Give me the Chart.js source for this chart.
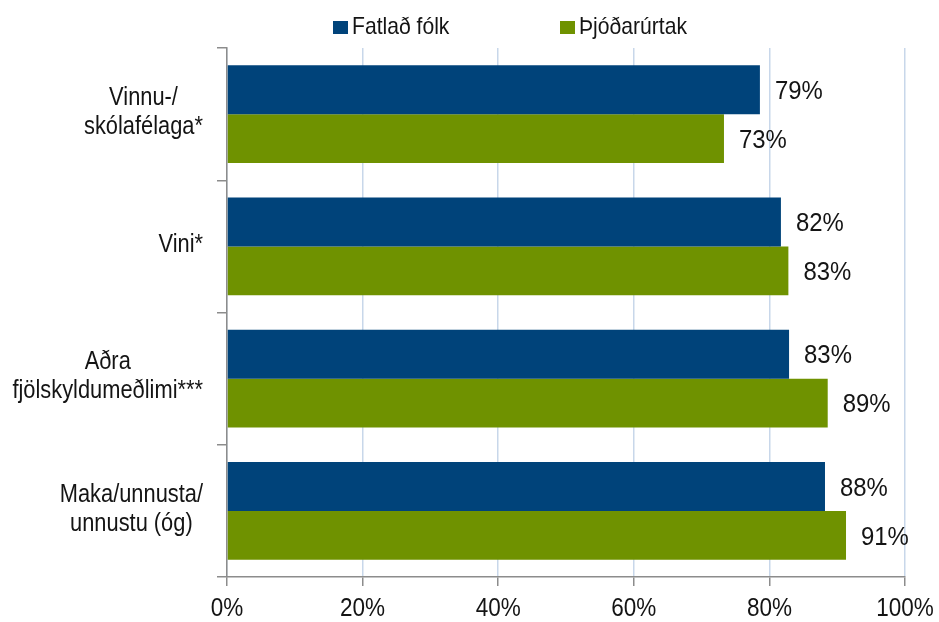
<!DOCTYPE html>
<html lang="is">
<head>
<meta charset="utf-8">
<script src="https://cdn.jsdelivr.net/npm/chart.js@4.4.1/dist/chart.umd.min.js"></script>
<style>
  html, body { margin: 0; padding: 0; background: #fff; }
  #wrap { width: 939px; height: 622px; }
</style>
</head>
<body>
<div id="wrap"><canvas id="myndrit" width="939" height="622"></canvas></div>
<script>
// Gögn
const flokkar = [
  ['Vinnu-/', 'skólafélaga*'],
  ['Vini*'],
  ['Aðra', 'fjölskyldumeðlimi***'],
  ['Maka/unnusta/', 'unnustu (óg)']
];
const fatladFolk = [78.6, 81.7, 82.9, 88.2];
const thjodarurtak = [73.3, 82.8, 88.6, 91.3];
const xTikk = [0, 20, 40, 60, 80, 100];

const LETUR = '"Liberation Sans", Arial, sans-serif';
const TEXTI = '#141414';

// letrið í frummyndinni er þrengra, sx þjappar því saman lárétt
function skrifa(ctx, s, x, y, staerd, jofnun, sx) {
  ctx.save();
  ctx.font = staerd + 'px ' + LETUR;
  ctx.fillStyle = TEXTI;
  ctx.textAlign = jofnun;
  ctx.textBaseline = 'middle';
  ctx.translate(x, y);
  ctx.scale(sx, 1);
  ctx.fillText(s, 0, 0);
  ctx.restore();
}

function breidd(ctx, s, staerd, sx) {
  ctx.save();
  ctx.font = staerd + 'px ' + LETUR;
  const b = ctx.measureText(s).width * sx;
  ctx.restore();
  return b;
}

// Gildi við enda súlna
const gildiPlugin = {
  id: 'gildi',
  afterDatasetsDraw(chart) {
    chart.data.datasets.forEach((ds, i) => {
      chart.getDatasetMeta(i).data.forEach((bar, j) => {
        skrifa(chart.ctx, Math.round(ds.data[j]) + '%', bar.x + 15, bar.y + 2, 26, 'left', 0.92);
      });
    });
  }
};

// Ásamerkingar
const asPlugin = {
  id: 'as',
  afterDraw(chart) {
    const ctx = chart.ctx;
    const y = chart.scales.y;
    const x = chart.scales.x;
    const haegri = chart.chartArea.left - 24;
    const lina = 29;
    flokkar.forEach((linur, i) => {
      const b = Math.max(...linur.map(l => breidd(ctx, l, 26, 0.84)));
      const mx = haegri - b / 2;
      const my = y.getPixelForValue(i) - 2;
      linur.forEach((l, k) => {
        skrifa(ctx, l, mx, my + (k - (linur.length - 1) / 2) * lina, 26, 'center', 0.84);
      });
    });
    xTikk.forEach(v => {
      skrifa(ctx, v + '%', x.getPixelForValue(v), chart.chartArea.bottom + 32, 25, 'center', 0.9);
    });
  }
};

// Skýringar efst
const skyringPlugin = {
  id: 'skyring',
  afterDraw(chart) {
    const ctx = chart.ctx;
    const stadir = [333, 560];
    chart.data.datasets.forEach((ds, i) => {
      ctx.fillStyle = ds.backgroundColor;
      ctx.fillRect(stadir[i], 21, 15, 13);
      skrifa(ctx, ds.label, stadir[i] + 19, 27, 24, 'left', 0.88);
    });
  }
};

new Chart(document.getElementById('myndrit'), {
  type: 'bar',
  data: {
    labels: flokkar,
    datasets: [
      { label: 'Fatlað fólk', data: fatladFolk, backgroundColor: '#00437a' },
      { label: 'Þjóðarúrtak', data: thjodarurtak, backgroundColor: '#6f9200' }
    ]
  },
  options: {
    indexAxis: 'y',
    responsive: false,
    animation: false,
    events: [],
    datasets: { bar: { barPercentage: 1, categoryPercentage: 0.74 } },
    layout: { padding: { top: 48, right: 34, left: 0, bottom: 0 } },
    plugins: { legend: { display: false }, tooltip: { enabled: false } },
    scales: {
      x: {
        min: 0,
        max: 100,
        afterBuildTicks(scale) { scale.ticks = xTikk.map(v => ({ value: v })); },
        afterFit(scale) { scale.height = 45; },
        grid: { color: '#c8d7ea', lineWidth: 1.5, tickColor: '#8c8c8c', tickLength: 9 },
        border: { color: '#8c8c8c', width: 1.5 },
        ticks: { display: false }
      },
      y: {
        afterFit(scale) { scale.width = 227; },
        grid: { drawOnChartArea: false, tickColor: '#8c8c8c', tickLength: 10, lineWidth: 1.5 },
        border: { color: '#8c8c8c', width: 1.5 },
        ticks: { display: false }
      }
    }
  },
  plugins: [gildiPlugin, asPlugin, skyringPlugin]
});
</script>
</body>
</html>
